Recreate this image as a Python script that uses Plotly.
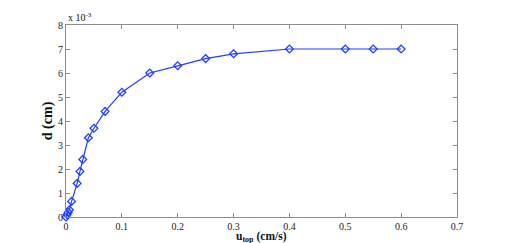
import plotly.graph_objects as go

# flow speed at the top (cm/s) and d (cm, in units of 1e-3)
u_top = [0, 0.002, 0.004, 0.006, 0.01, 0.02, 0.025, 0.03, 0.04, 0.05,
         0.07, 0.1, 0.15, 0.2, 0.25, 0.3, 0.4, 0.5, 0.55, 0.6]
d_e3 = [0, 0.1, 0.2, 0.3, 0.65, 1.4, 1.9, 2.4, 3.3, 3.7,
        4.4, 5.2, 6.0, 6.3, 6.6, 6.8, 7.0, 7.0, 7.0, 7.0]

x_ticks = [0, 0.1, 0.2, 0.3, 0.4, 0.5, 0.6, 0.7]
y_ticks = [0, 1, 2, 3, 4, 5, 6, 7, 8]

serif = "Liberation Serif, Times New Roman, serif"
axis_style = dict(
    showline=True, linecolor="#8c8c8c", linewidth=1, mirror="ticks",
    ticks="inside", ticklen=4, tickcolor="#8c8c8c", showgrid=False,
    zeroline=False, tickfont=dict(family=serif, size=10, color="#222"),
)

fig = go.Figure(go.Scatter(
    x=u_top, y=d_e3, mode="lines+markers",
    line=dict(color="#1f3dff", width=1.2),
    marker=dict(symbol="diamond-open", size=6, color="#1f3dff",
                line=dict(width=1.3)),
    cliponaxis=False,
))

fig.update_xaxes(range=[0, 0.7], tickvals=x_ticks,
                 ticktext=[f"{v:g}" for v in x_ticks], **axis_style)
fig.update_yaxes(range=[0, 8], tickvals=y_ticks, **axis_style)

# the page body adds an 8px offset, so the figure is sized to fit the window
fig.update_layout(
    width=497, height=235, showlegend=False,
    paper_bgcolor="white", plot_bgcolor="white",
    margin=dict(l=58, r=48, t=11, b=20),
    font=dict(family=serif, color="#111"),
    annotations=[
        dict(text="x 10<sup>-3</sup>", x=0, y=1, xref="paper", yref="paper",
             xanchor="left", yanchor="bottom", showarrow=False,
             font=dict(size=10, family=serif)),
        dict(text="<b>d (cm)</b>", x=-0.02, y=0.5, xref="paper", yref="paper",
             textangle=-90, xanchor="right", yanchor="middle", showarrow=False,
             font=dict(size=14, family=serif)),
        dict(text="<b>u<sub>top</sub> (cm/s)</b>", x=0.5, y=0, yshift=-11,
             xref="paper", yref="paper", xanchor="center", yanchor="top",
             showarrow=False, font=dict(size=11.5, family=serif)),
    ],
)

fig.write_html("out.html")
